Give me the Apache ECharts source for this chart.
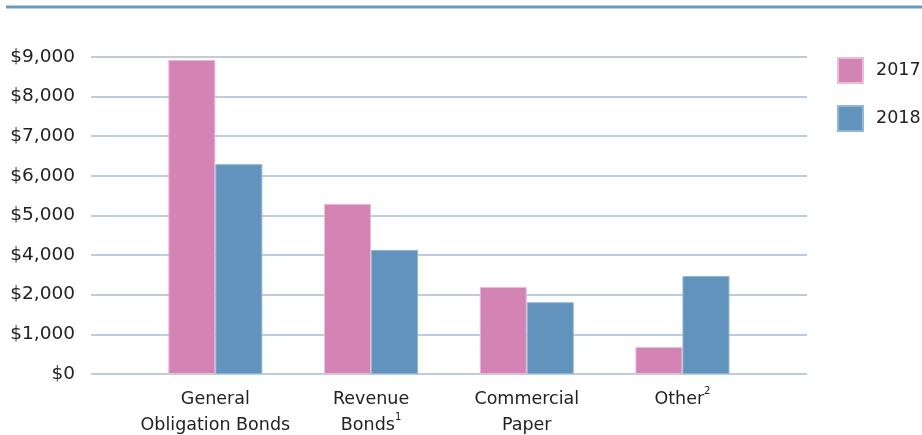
<!DOCTYPE html>
<html>
<head>
<meta charset="utf-8">
<script src="https://cdn.jsdelivr.net/npm/echarts@6/dist/echarts.min.js"></script>
<style>
  html, body { margin: 0; padding: 0; background: #fff; }
  #chart { width: 922px; height: 435px; }
</style>
</head>
<body>
<div id="chart"></div>
<script>
// Debt issued by type, 2017 vs 2018 (in millions of dollars)
const categories = ['General\nObligation Bonds', 'Revenue\nBonds', 'Commercial\nPaper', 'Other'];
const footnotes = ['', '1', '', '2'];
const seriesNames = ['2017', '2018'];
const values2017 = [8920, 5290, 2390, 680];
const values2018 = [6290, 4130, 1810, 2940];

// Gridline values as printed on the value axis (one gridline per entry)
const tickValues = [0, 1000, 2000, 4000, 5000, 6000, 7000, 8000, 9000];
const tickLabels = ['$0', '$1,000', '$2,000', '$4,000', '$5,000', '$6,000', '$7,000', '$8,000', '$9,000'];

const colors = ['#d483b5', '#6193bc'];
const borders = ['#ebbdd9', '#93b6d4'];
const FONT = '"DejaVu Sans", "Liberation Sans", Arial, sans-serif';
const FS = 17.5;

// Place a dollar value on the gridline scale (evenly spaced gridlines)
function toAxis(v) {
  for (let i = 0; i < tickValues.length - 1; i++) {
    if (v <= tickValues[i + 1]) {
      return i + (v - tickValues[i]) / (tickValues[i + 1] - tickValues[i]);
    }
  }
  return tickValues.length - 1;
}

const axisMax = tickValues.length - 1;
const chart = echarts.init(document.getElementById('chart'), null, { renderer: 'canvas' });

chart.setOption({
  animation: false,
  backgroundColor: '#ffffff',
  textStyle: { fontFamily: FONT },
  graphic: [{
    type: 'line',
    shape: { x1: 6, y1: 7, x2: 922, y2: 7 },
    style: { stroke: '#6a98c2', lineWidth: 3 }
  }],
  legend: {
    orient: 'vertical',
    left: 837,
    top: 57,
    padding: 0,
    itemWidth: 25,
    itemHeight: 25,
    itemGap: 21,
    icon: 'rect',
    textStyle: { fontSize: FS, color: '#222', fontFamily: FONT, padding: [0, 0, 0, 8] },
    data: seriesNames
  },
  grid: [
    // gridlines and dollar labels
    { left: 91, right: 115, top: 56.7, bottom: 61, containLabel: false, outerBoundsMode: 'none' },
    // bar groups
    { left: 137.5, right: 161.7, top: 56.7, bottom: 61, containLabel: false, outerBoundsMode: 'none' }
  ],
  xAxis: [
    { gridIndex: 0, type: 'value', show: false, min: 0, max: 1 },
    {
      gridIndex: 1,
      type: 'category',
      data: categories,
      axisLine: { show: false },
      axisTick: { show: false },
      axisLabel: {
        margin: 12,
        fontSize: FS,
        lineHeight: 26,
        color: '#222',
        fontFamily: FONT,
        interval: 0,
        formatter: function (val, idx) {
          const note = footnotes[idx];
          return note ? val + '{sup|' + note + '}' : val;
        },
        rich: {
          sup: { fontSize: 10, color: '#222', fontFamily: FONT, verticalAlign: 'top', padding: [0, 0, 9, 0] }
        }
      }
    }
  ],
  yAxis: [
    {
      gridIndex: 0,
      type: 'value',
      min: 0,
      max: axisMax,
      interval: 1,
      axisLine: { show: false },
      axisTick: { show: false },
      splitLine: { show: true, lineStyle: { color: '#bccde0', width: 2 } },
      axisLabel: {
        margin: 16,
        fontSize: 18.5,
        color: '#222',
        fontFamily: FONT,
        formatter: function (v) { return tickLabels[Math.round(v)] || ''; }
      }
    },
    { gridIndex: 1, type: 'value', min: 0, max: axisMax, show: false, splitLine: { show: false } }
  ],
  series: [
    {
      name: seriesNames[0],
      type: 'bar',
      xAxisIndex: 1,
      yAxisIndex: 1,
      barGap: '0%',
      barCategoryGap: '39.6%',
      itemStyle: { color: colors[0], borderColor: borders[0], borderWidth: 1 },
      data: values2017.map(toAxis)
    },
    {
      name: seriesNames[1],
      type: 'bar',
      xAxisIndex: 1,
      yAxisIndex: 1,
      barGap: '0%',
      barCategoryGap: '39.6%',
      itemStyle: { color: colors[1], borderColor: borders[1], borderWidth: 1 },
      data: values2018.map(toAxis)
    }
  ]
});
</script>
</body>
</html>
